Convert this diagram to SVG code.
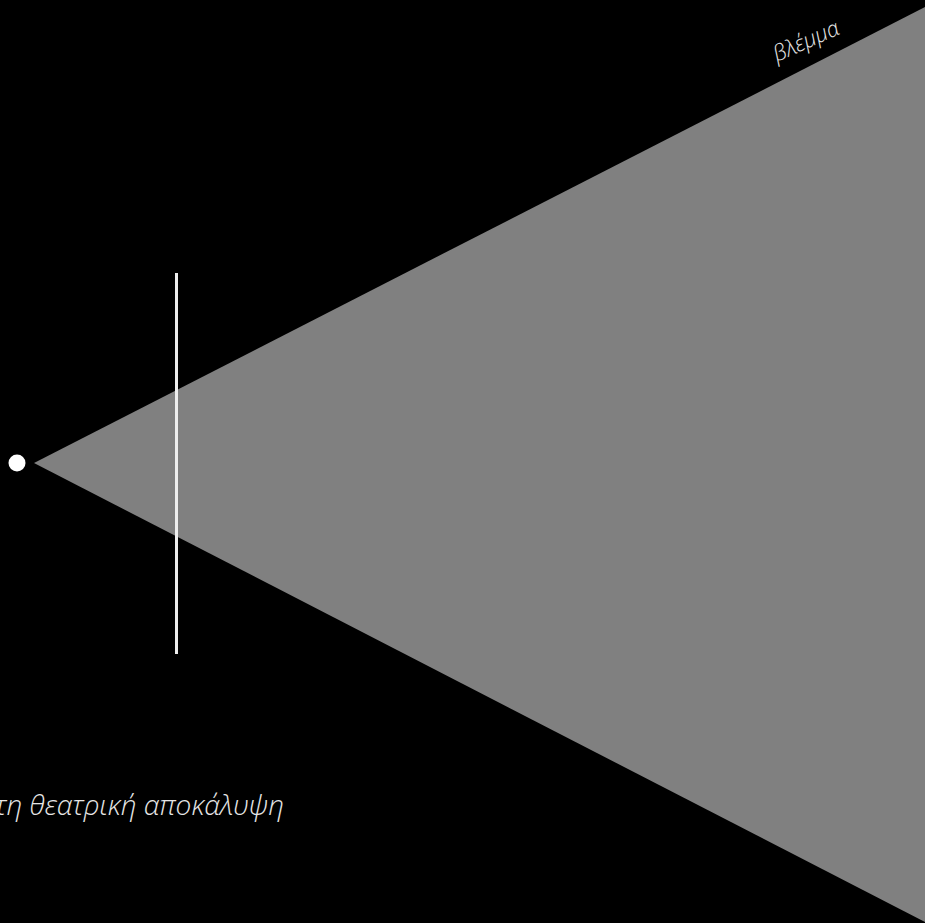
<svg xmlns="http://www.w3.org/2000/svg" width="925" height="923" viewBox="0 0 925 923">
<style>
.lbl{font-family:"Open Sans","Noto Sans","DejaVu Sans",sans-serif;font-style:italic;font-weight:300;fill:#e6e6e6}
</style>
<rect x="0" y="0" width="925" height="923" fill="#000"/>
<g id="gaze">
<polygon points="34,463 925,7 925,922" fill="#808080"/>
</g>
<g id="eye">
<circle cx="17" cy="463" r="8.5" fill="#fff"/>
</g>
<g id="screen">
<line x1="176.5" y1="273" x2="176.5" y2="654" stroke="#eeeeee" stroke-width="3"/>
</g>
<g id="label-gaze">
<text class="lbl" x="777" y="62" font-size="22" transform="rotate(-24 777 62)">βλέμμα</text>
</g>
<g id="label-reveal">
<text class="lbl" x="284" y="815" font-size="28" text-anchor="end">τη θεατρική αποκάλυψη</text>
</g>
</svg>
